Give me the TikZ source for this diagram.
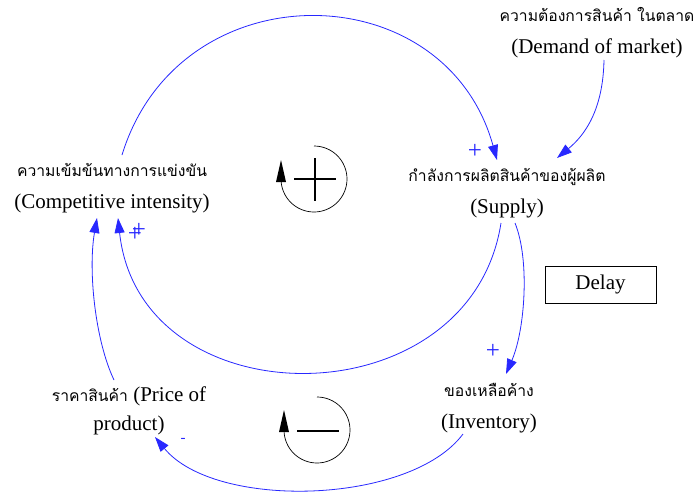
\documentclass[tikz,border=0pt]{standalone}
\usepackage{fontspec}
\setmainfont{Liberation Serif}
\newfontfamily\thaifont[Script=Thai]{Loma}
\usetikzlibrary{arrows.meta}
\definecolor{lnk}{RGB}{40,40,255}
\tikzset{
  var/.style={align=center, inner sep=0pt, font=\fontsize{21}{32}\selectfont},
  link/.style={draw=lnk, line width=0.8pt, -{Triangle[length=15pt,width=10pt]}},
  sgn/.style={text=lnk, inner sep=0pt, font=\fontsize{25}{25}\selectfont},
  loopline/.style={draw=black, line width=0.7pt},
  loopmark/.style={draw=black, line width=2.2pt},
}
\newcommand{\thl}[1]{{\thaifont\fontsize{15.7}{32}\selectfont #1}}
\begin{document}
\begin{tikzpicture}[x=1pt,y=-1pt]
\useasboundingbox (0,0) rectangle (697,496);
\fill[white] (0,0) rectangle (697,496);

% variables
\node[var] (comp) at (112,188) {\thl{ความเข้มข้นทางการแข่งขัน}\\(Competitive intensity)};
\node[var] (supply) at (507,193) {\thl{กำลังการผลิตสินค้าของผู้ผลิต}\\(Supply)};
\node[var] (demand) at (597,33) {\thl{ความต้องการสินค้า ในตลาด}\\(Demand of market)};
\node[var, font=\fontsize{21}{29}\selectfont] (price) at (129,411) {\thl{ราคาสินค้า} (Price of\\product)};
\node[var] (inv) at (489,408) {\thl{ของเหลือค้าง}\\(Inventory)};
\node[draw, line width=0.8pt, minimum width=111pt, minimum height=37pt, inner sep=0pt,
      font=\fontsize{21}{21}\selectfont] (delay) at (600.5,284.5) {Delay};

% connectors
\draw[link] ([shift={(10,-33)}]comp.center) .. controls (179,-31) and (445,-28) .. ([shift={(-10,-33)}]supply.center);
\draw[link] ([shift={(-6,30)}]supply.center) .. controls (470,422) and (140,422) .. ([shift={(6,30)}]comp.center);
\draw[link] ([shift={(-15,-31)}]price.center) .. controls (95,340) and (88,270) .. ([shift={(-15,30)}]comp.center);
\draw[link] ([shift={(8,30)}]supply.center) .. controls (530,260) and (525,330) .. ([shift={(17,-34)}]inv.center);
\draw[link] ([shift={(-26,26)}]inv.center) .. controls (410,505) and (215,510) .. ([shift={(26,26)}]price.center);
\draw[link] ([shift={(7,27)}]demand.center) .. controls (603,110) and (585,135) .. ([shift={(50,-35)}]supply.center);

% polarity signs
\node[sgn] (s1) at (475,151) {+};
\node[sgn] (s2) at (135,234) {+};
\node[sgn] (s2b) at (139,230) {+};
\node[sgn] (s3) at (493,351) {+};
\node[sgn, font=\fontsize{15}{15}\selectfont] (s4) at (183,440) {-};

% loop symbols
\coordinate (lp) at (314,179);
\draw[loopline] ([shift={(0,-33)}]lp) arc[start angle=-90, end angle=180, radius=33];
\fill[black] ([shift={(-33,-19)}]lp) -- ([shift={(-28,3)}]lp) -- ([shift={(-38,3)}]lp) -- cycle;
\draw[loopmark] ([shift={(-20,0)}]lp) -- ([shift={(22,0)}]lp);
\draw[loopmark] ([shift={(1,-21)}]lp) -- ([shift={(1,22)}]lp);

\coordinate (ln) at (317,430);
\draw[loopline] ([shift={(0,-33)}]ln) arc[start angle=-90, end angle=180, radius=33];
\fill[black] ([shift={(-33,-20)}]ln) -- ([shift={(-28,2)}]ln) -- ([shift={(-38,2)}]ln) -- cycle;
\draw[loopmark] ([shift={(-20,1)}]ln) -- ([shift={(22,1)}]ln);
\end{tikzpicture}
\end{document}
